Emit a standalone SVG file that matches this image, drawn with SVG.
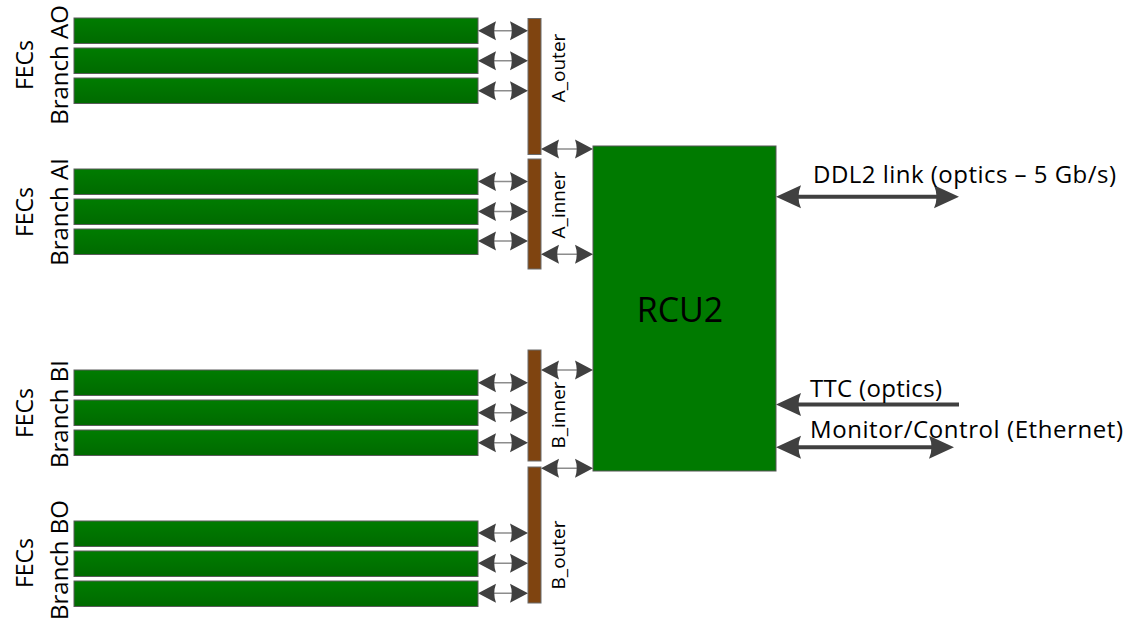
<svg xmlns="http://www.w3.org/2000/svg" width="1126" height="622" viewBox="0 0 1126 622">
  <style>
    .fec { fill: url(#fecGrad); stroke: #5a5a5a; stroke-width: 1; }
    .bus { fill: #7f4410; stroke: #6a6a6a; stroke-width: 1; }
    .rcu { fill: #007a00; stroke: #555555; stroke-width: 1; }
    .lbl { font-family: "Open Sans", "Liberation Sans", sans-serif; fill: #000000; }
    .side1 { font-size: 23px; }
    .side2 { font-size: 24px; }
    .busl { font-size: 19px; }
    .big { font-size: 24px; }
    .sm { stroke: #8c8c8c; stroke-width: 1.6; fill: none; marker-start: url(#hs); marker-end: url(#hs); }
    .lg { stroke: #404040; stroke-width: 4; fill: none; }
  </style>
  <defs>
    <linearGradient id="fecGrad" x1="0" y1="0" x2="0" y2="1">
      <stop offset="0" stop-color="#007c00"/>
      <stop offset="1" stop-color="#006a00"/>
    </linearGradient>
    <marker id="hs" viewBox="-19 -11 20 22" markerWidth="20" markerHeight="22" refX="-6" refY="0" orient="auto-start-reverse" markerUnits="userSpaceOnUse">
      <path d="M0,0 L-18,-9.5 Q-14.5,0 -18,9.5 Z" fill="#404040"/>
    </marker>
    <marker id="hl" viewBox="-27 -13 28 26" markerWidth="28" markerHeight="26" refX="-8" refY="0" orient="auto-start-reverse" markerUnits="userSpaceOnUse">
      <path d="M0,0 L-25,-11.5 Q-20,0 -25,11.5 Z" fill="#404040"/>
    </marker>
  </defs>

  <!-- FEC branches -->
  <g id="branch-AO">
    <rect class="fec" x="74" y="18" width="404" height="25.5"/>
    <rect class="fec" x="74" y="48" width="404" height="25.5"/>
    <rect class="fec" x="74" y="78" width="404" height="25.5"/>
  </g>
  <g id="branch-AI">
    <rect class="fec" x="74" y="169" width="404" height="25.5"/>
    <rect class="fec" x="74" y="199" width="404" height="25.5"/>
    <rect class="fec" x="74" y="229" width="404" height="25.5"/>
  </g>
  <g id="branch-BI">
    <rect class="fec" x="74" y="370" width="404" height="25.5"/>
    <rect class="fec" x="74" y="400" width="404" height="25.5"/>
    <rect class="fec" x="74" y="430" width="404" height="25.5"/>
  </g>
  <g id="branch-BO">
    <rect class="fec" x="74" y="521" width="404" height="25.5"/>
    <rect class="fec" x="74" y="551" width="404" height="25.5"/>
    <rect class="fec" x="74" y="581" width="404" height="25.5"/>
  </g>

  <!-- Branch labels -->
  <g id="label-AO">
    <text class="lbl side1" text-anchor="middle" transform="translate(33,65) rotate(-90)">FECs</text>
    <text class="lbl side2" text-anchor="middle" transform="translate(68,65) rotate(-90)">Branch AO</text>
  </g>
  <g id="label-AI">
    <text class="lbl side1" text-anchor="middle" transform="translate(33,212) rotate(-90)">FECs</text>
    <text class="lbl side2" text-anchor="middle" transform="translate(68,212) rotate(-90)">Branch AI</text>
  </g>
  <g id="label-BI">
    <text class="lbl side1" text-anchor="middle" transform="translate(33,413) rotate(-90)">FECs</text>
    <text class="lbl side2" text-anchor="middle" transform="translate(68,414) rotate(-90)">Branch BI</text>
  </g>
  <g id="label-BO">
    <text class="lbl side1" text-anchor="middle" transform="translate(33,563) rotate(-90)">FECs</text>
    <text class="lbl side2" text-anchor="middle" transform="translate(68,560) rotate(-90)">Branch BO</text>
  </g>

  <!-- Buses -->
  <g id="A_outer">
    <rect class="bus" x="528" y="18.5" width="13" height="136"/>
    <text class="lbl busl" text-anchor="middle" transform="translate(565,68) rotate(-90)">A_outer</text>
  </g>
  <g id="A_inner">
    <rect class="bus" x="528" y="159" width="13" height="110"/>
    <text class="lbl busl" text-anchor="middle" transform="translate(565,205) rotate(-90)">A_inner</text>
  </g>
  <g id="B_inner">
    <rect class="bus" x="528" y="350" width="13" height="111"/>
    <text class="lbl busl" text-anchor="middle" transform="translate(565,415) rotate(-90)">B_inner</text>
  </g>
  <g id="B_outer">
    <rect class="bus" x="528" y="467" width="13" height="136"/>
    <text class="lbl busl" text-anchor="middle" transform="translate(565,555) rotate(-90)">B_outer</text>
  </g>

  <!-- RCU2 -->
  <g id="RCU2">
    <rect class="rcu" x="593" y="146" width="183" height="325"/>
    <text class="lbl" font-size="34" text-anchor="middle" x="680" y="321.5">RCU2</text>
  </g>

  <!-- Connectors -->
  <g id="connectors">
    <line class="sm" x1="484" y1="30.75" x2="522" y2="30.75"/>
    <line class="sm" x1="484" y1="60.75" x2="522" y2="60.75"/>
    <line class="sm" x1="484" y1="90.75" x2="522" y2="90.75"/>
    <line class="sm" x1="484" y1="181.5" x2="522" y2="181.5"/>
    <line class="sm" x1="484" y1="211.5" x2="522" y2="211.5"/>
    <line class="sm" x1="484" y1="241" x2="522" y2="241"/>
    <line class="sm" x1="484" y1="382.7" x2="522" y2="382.7"/>
    <line class="sm" x1="484" y1="412.7" x2="522" y2="412.7"/>
    <line class="sm" x1="484" y1="442.7" x2="522" y2="442.7"/>
    <line class="sm" x1="484" y1="533" x2="522" y2="533"/>
    <line class="sm" x1="484" y1="563.3" x2="522" y2="563.3"/>
    <line class="sm" x1="484" y1="593.3" x2="522" y2="593.3"/>

    <line class="sm" x1="547" y1="149" x2="587" y2="149"/>
    <line class="sm" x1="547" y1="254.3" x2="587" y2="254.3"/>
    <line class="sm" x1="547" y1="370" x2="587" y2="370"/>
    <line class="sm" x1="547" y1="468.3" x2="587" y2="468.3"/>

    <line class="lg" x1="784" y1="196.7" x2="951" y2="196.7" marker-start="url(#hl)" marker-end="url(#hl)"/>
    <line class="lg" x1="959" y1="404.6" x2="784" y2="404.6" stroke-width="3.4" marker-end="url(#hl)"/>
    <line class="lg" x1="784" y1="447.2" x2="946" y2="447.2" stroke-width="3.6" marker-start="url(#hl)" marker-end="url(#hl)"/>
  </g>

  <!-- Link labels -->
  <g id="link-labels">
    <text class="lbl big" x="813" y="183.3" textLength="303" lengthAdjust="spacing">DDL2 link (optics – 5 Gb/s)</text>
    <text class="lbl big" x="810" y="396.7" textLength="132" lengthAdjust="spacing">TTC (optics)</text>
    <text class="lbl big" x="810" y="437.5" textLength="313" lengthAdjust="spacing">Monitor/Control (Ethernet)</text>
  </g>
</svg>
